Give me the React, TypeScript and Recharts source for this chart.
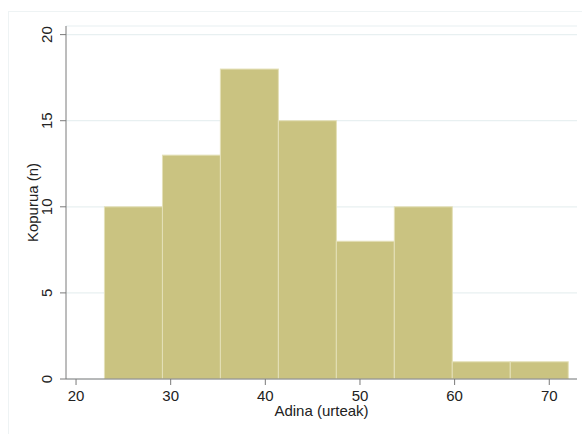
import { BarChart, Bar, XAxis, YAxis, CartesianGrid } from "recharts"

// age bins (centres, years) and the count in each
const binCenters = [26.06, 32.19, 38.31, 44.44, 50.56, 56.69, 62.81, 68.94]
const counts = [10, 13, 18, 15, 8, 10, 1, 1]
const xTicks = [20, 30, 40, 50, 60, 70]
const yTicks = [0, 5, 10, 15, 20]

const data = binCenters.map((age, i) => ({ age, n: counts[i] }))

const font = "'Liberation Sans', Arial, sans-serif"
const axisColor = "#7a7a7a"
const binPx = 58

function YTick({ x, y, payload }: { x?: number; y?: number; payload?: { value: number } }) {
  const tx = (x ?? 0) - 6
  return (
    <text x={tx} y={y} transform={`rotate(-90, ${tx}, ${y})`} textAnchor="middle" fill="#222" fontSize={15} fontFamily={font}>
      {payload?.value}
    </text>
  )
}

// histogram bins touch each other, so widen each bar to the full bin around its centre
function BinRect(props: { x?: number; y?: number; width?: number; height?: number }) {
  const { x = 0, y = 0, width = 0, height = 0 } = props
  const cx = x + width / 2
  return <rect x={cx - binPx / 2} y={y} width={binPx} height={height} fill="#cac381" stroke="#e4e0b8" strokeWidth={1} />
}

export default function App() {
  return (
    <div style={{ position: "absolute", left: 0, top: 0, width: 582, height: 434, background: "#fff" }}>
      <div style={{ position: "absolute", left: 8, top: 11, right: 0, bottom: 0, borderLeft: "1px solid #eef3f4", borderTop: "1px solid #eef3f4" }} />
      <BarChart
        width={582}
        height={434}
        data={data}
        margin={{ top: 26, right: 5, bottom: 0, left: 0 }}
        barCategoryGap={0}
        barGap={0}
        style={{ position: "absolute", left: 0, top: 0 }}
      >
        <CartesianGrid vertical={false} stroke="#e8f0f1" strokeWidth={1.2} />
        <XAxis
          dataKey="age"
          type="number"
          domain={[18.94, 72.93]}
          allowDataOverflow
          ticks={xTicks}
          height={55}
          tickSize={6}
          tickMargin={5}
          stroke={axisColor}
          tick={{ fill: "#222", fontSize: 15, fontFamily: font }}
          label={{
            content: () => (
              <text x={321.5} y={416} textAnchor="middle" fill="#222" fontSize={15} fontFamily={font}>
                Adina (urteak)
              </text>
            ),
          }}
        />
        <YAxis
          type="number"
          domain={[0, 20.5]}
          allowDataOverflow
          ticks={yTicks}
          width={66}
          tickSize={6}
          stroke={axisColor}
          tick={<YTick />}
          label={{
            content: () => (
              <text x={38} y={202.5} transform="rotate(-90, 38, 202.5)" textAnchor="middle" fill="#222" fontSize={15} fontFamily={font}>
                Kopurua (n)
              </text>
            ),
          }}
        />
        <Bar dataKey="n" shape={<BinRect />} isAnimationActive={false} />
      </BarChart>
    </div>
  )
}
